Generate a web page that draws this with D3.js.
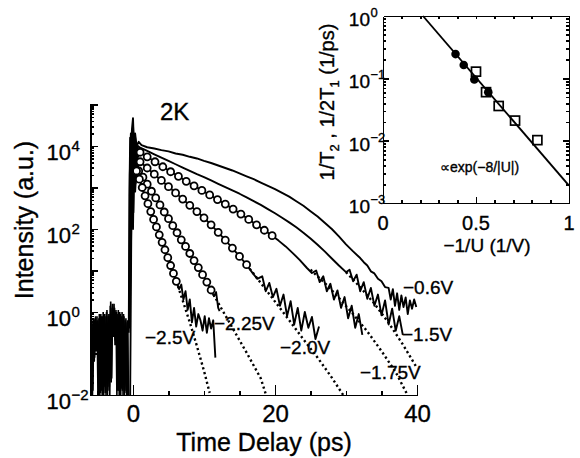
<!DOCTYPE html>
<html>
<head>
<meta charset="utf-8">
<title>Decay traces at 2K</title>
<style>
  body { margin: 0; background: #fff; }
  svg { display: block; font-family: "Liberation Sans", Arial, sans-serif; }
  svg text { fill: #000; stroke: #000; stroke-width: 0.35px; }
  .axis path, .axis line { stroke: #000; stroke-width: 1.8; shape-rendering: crispEdges; }
</style>
</head>
<body>
<div id="chart"></div>
<script src="https://d3js.org/d3.v7.min.js"></script>
<script>
// ---------------- main panel: log10(intensity) vs time delay (ps) ----------------
var volts = ["\u22120.6V", "\u22121.5V", "\u22121.75V", "\u22122.0V", "\u22122.25V", "\u22122.5V"];

// noise before the pulse (all traces overlap here)
var preT = [-5.9,-5.78,-5.65,-5.52,-5.4,-5.27,-5.14,-5.0,-4.87,-4.74,-4.6,-4.47,-4.34,-4.2,-4.07,-3.94,-3.8,-3.67,-3.54,-3.4,-3.27,-3.14,-3.0,-2.87,-2.74,-2.6,-2.47,-2.34,-2.2,-2.07,-1.94,-1.8,-1.67,-1.54,-1.4,-1.27,-1.14,-1.0,-0.87,-0.74,-0.65];
var preL = [-2,-0.2,-1.9,-0.15,-1.1,-0.1,-0.9,-0.2,-2,-0.05,-1.95,-0.1,-2,0.0,-1.8,-0.1,-2,0.05,-1.9,-0.05,-2,0.25,-1.6,0.2,-0.6,0.1,-0.7,0.0,-1.9,0.05,-2,-0.05,-1.85,0.0,-2,-0.1,-1.9,-0.15,-2,-0.2,-2];
var preT2 = [-5.84,-5.71,-5.58,-5.46,-5.33,-5.2,-5.07,-4.93,-4.8,-4.67,-4.53,-4.4,-4.27,-4.13,-4.0,-3.87,-3.73,-3.6,-3.47,-3.33,-3.2,-3.07,-2.93,-2.8,-2.67,-2.53,-2.4,-2.27,-2.13,-2.0,-1.87,-1.73,-1.6,-1.47,-1.33,-1.2,-1.07,-0.93,-0.8,-0.7];
var preL2 = [-0.3,-2,-0.25,-1.2,-0.2,-0.95,-0.1,-2,-0.15,-2,-0.05,-1.9,-0.1,-2,-0.05,-1.95,0.0,-2,-0.1,-1.8,0.15,-1.7,0.1,-0.55,0.2,-0.8,0.05,-2,-0.05,-1.9,0.0,-2,-0.1,-1.9,-0.05,-2,-0.2,-1.95,-0.25,-2];

// -0.6 V
var t06 = [-0.6,-0.5,-0.4,-0.3,-0.15,0,0.15,0.3,0.5,0.8,1.2,2,3,4,5,6,7,8,9,10,11,12,13,14,15,16,17,18,19,20,21,22,23,24,25,26,27,28,29,30,31,32,32.5,33,33.5,34,34.5,35,35.5,36,36.3,36.6,36.9,37.2,37.5,37.8,38.1,38.4,38.7,39,39.3,39.6,39.9];
var l06 = [-0.5,2.8,4.2,3.7,4.4,4.67,3.9,4.3,4.0,4.1,4.02,3.97,3.94,3.9,3.87,3.82,3.79,3.74,3.7,3.64,3.59,3.53,3.47,3.41,3.34,3.27,3.2,3.12,3.04,2.96,2.87,2.78,2.67,2.56,2.43,2.3,2.15,2.0,1.82,1.63,1.46,1.3,1.2,1.12,0.98,0.93,0.8,0.74,0.6,0.58,0.3,0.55,0.15,0.45,0.05,0.4,0.12,0.35,-0.05,0.28,0.08,0.3,0.12];

// -1.5 V
var t15 = [-0.55,-0.45,-0.3,-0.15,0,0.15,0.3,0.5,0.7,1,2,3,4,5,6,7,8,9,10,11,12,13,14,15,16,17,18,19,20,21,22,23,24,25,26,27,28,29,30,30.5,31,31.5,32,32.5,33,33.5,34,34.5,35,35.5,36,36.5,37,37.5,38];
var l15 = [-0.3,3.3,4.3,3.5,4.5,3.8,4.2,3.85,4.0,3.96,3.88,3.8,3.72,3.64,3.56,3.48,3.4,3.32,3.25,3.17,3.09,3.01,2.93,2.85,2.76,2.67,2.58,2.48,2.38,2.27,2.16,2.04,1.91,1.77,1.62,1.46,1.29,1.12,0.96,1.02,0.74,0.9,0.5,0.72,0.32,0.58,0.15,0.42,-0.08,0.28,-0.3,0.08,-0.45,-0.1,-0.55];
var f15t = [30,32,34,36,38,40];
var f15l = [0.96,0.6,0.2,-0.26,-0.78,-1.35];

// -1.75 V
var lead175t = [-0.5,-0.4,-0.25,-0.1,0.05,0.2,0.4,0.6];
var lead175l = [-0.2,2.5,4.1,3.2,4.3,3.5,3.9,3.7];
var c175t = [1,2,3.1,4.2,5.3,6.4,7.5,8.6,9.7,10.8,11.9,13,14.1,15.2,16.3,17.4,18.5,19.6];
var c175l = [3.85,3.74,3.62,3.5,3.38,3.27,3.15,3.04,2.93,2.82,2.71,2.6,2.48,2.36,2.23,2.1,1.97,1.84];
var tail175t = [20.5,21.5,22.5,23.5,24.5,25.2,25.8,26.3,26.8,27.3,27.8,28.3,28.8,29.3,29.8,30.3,30.8,31.3,31.8,32.3];
var tail175l = [1.72,1.58,1.42,1.25,1.06,0.94,1.0,0.72,0.86,0.5,0.68,0.3,0.52,0.1,0.36,-0.15,0.15,-0.38,-0.05,-0.55];
var f175t = [25,27,29,31,33,35,37,38.6];
var f175l = [1.02,0.7,0.34,-0.05,-0.47,-0.94,-1.45,-1.98];

// -2.0 V
var lead20t = [-0.5,-0.35,-0.2,-0.05,0.1,0.25,0.45,0.7];
var lead20l = [-0.4,1.8,3.8,2.6,4.0,3.1,3.7,3.5];
var c20t = [1,2,3,4,5,6,7,8,9,10,11,12,13,14,15,16];
var c20l = [3.62,3.47,3.32,3.17,3.02,2.87,2.72,2.57,2.42,2.27,2.1,1.92,1.73,1.54,1.34,1.14];
var tail20t = [16.8,17.5,18.2,18.7,19.2,19.7,20.2,20.7,21.2,21.7,22.2,22.7,23.2,23.7,24.2,24.7,25.2,25.7,26.2];
var tail20l = [0.95,0.8,0.86,0.5,0.7,0.36,0.56,0.15,0.42,-0.1,0.26,-0.3,0.1,-0.45,0.0,-0.38,-0.12,-0.65,-0.35];
var f20t = [16,18,20,22,24,26,28,29.6];
var f20l = [1.14,0.7,0.25,-0.2,-0.66,-1.1,-1.58,-2.0];

// -2.25 V
var lead225t = [-0.45,-0.3,-0.15,0,0.15,0.3,0.5];
var lead225l = [-0.3,2.2,3.5,2.0,3.9,2.9,3.5];
var c225t = [0.8,1.4,2,2.6,3.2,3.8,4.4,5,5.6,6.2,6.8,7.4,8,8.6,9.2,9.8,10.4,11];
var c225l = [3.4,3.25,3.08,2.91,2.75,2.58,2.41,2.25,2.08,1.91,1.74,1.58,1.41,1.24,1.07,0.9,0.72,0.53];
var tail225t = [11.4,11.7,12,12.2];
var tail225l = [0.38,0.48,0.1,0.02];
var f225t = [11,12,14,16,18,18.7];
var f225l = [0.53,0.22,-0.38,-0.98,-1.6,-1.98];

// -2.5 V
var lead25t = [-0.4,-0.25,-0.1,0.05,0.2,0.35];
var lead25l = [-2,1.7,3.3,2.4,3.7,3.1];
var c25t = [0.5,0.9,1.3,1.7,2.1,2.5,2.9,3.3,3.7,4.1,4.5,4.9,5.3,5.7,6.1];
var c25l = [3.4,3.2,3.0,2.8,2.61,2.42,2.23,2.05,1.86,1.68,1.5,1.31,1.12,0.93,0.74];
var tail25t = [6.5,6.8,7.1,7.4,7.7,8.0,8.3,8.6,8.9,9.2,9.5,9.8,10.1,10.4,10.7,11.0,11.3,11.6];
var tail25l = [0.55,0.66,0.3,0.5,0.05,0.3,-0.25,0.1,-0.35,-0.05,-0.2,-0.45,-0.1,-0.5,-0.15,-0.4,-0.2,-1.1];
var f25t = [6.1,7,8,9,10,10.8];
var f25l = [0.74,0.28,-0.25,-0.82,-1.42,-1.95];

var xTickLabels = [0, 20, 40];
var xTickMinor = [-5, 5, 10, 15, 25, 30, 35];
var yLabelExp = [-2, 0, 2, 4];

// ---------------- inset: rates vs -1/U ----------------
var insetU1 = [0.39, 0.434, 0.491, 0.566];          // filled circles
var insetR1 = [0.245, 0.164, 0.096, 0.060];
var insetU2 = [0.50, 0.554, 0.622, 0.71, 0.83];     // open squares
var insetR2 = [0.128, 0.060, 0.036, 0.021, 0.0102];
var insetFitU = [0.215, 1];
var insetFitR = [1, 0.0019];
var insetXLabels = [0, 0.5, 1];
var insetYLabelExp = [0, -1, -2, -3];

// ---------------- drawing ----------------
var svg = d3.select("#chart").append("svg").attr("width", 580).attr("height", 458);

var x = d3.scaleLinear().domain([-6, 40]).range([90.4, 417]);
var y = d3.scaleLog().domain([1e-2, 1e5]).range([395, 104.5]);

function pts(ts, ls) { return ts.map(function(t, i) { return [t, ls[i]]; }); }
var line = d3.line().x(function(d) { return x(d[0]); }).y(function(d) { return y(Math.pow(10, d[1])); });

var curves = [
  { label: volts[0], trace: pts(t06, l06), circles: [], fit: [], lx: 403, ly: 294 },
  { label: volts[1], trace: pts(t15, l15), circles: [], fit: pts(f15t, f15l), lx: 402, ly: 341 },
  { label: volts[2], trace: pts(lead175t, lead175l).concat(pts(c175t, c175l), pts(tail175t, tail175l)),
    circles: pts(c175t, c175l), fit: pts(f175t, f175l), lx: 360, ly: 379 },
  { label: volts[3], trace: pts(lead20t, lead20l).concat(pts(c20t, c20l), pts(tail20t, tail20l)),
    circles: pts(c20t, c20l), fit: pts(f20t, f20l), lx: 280, ly: 354 },
  { label: volts[4], trace: pts(lead225t, lead225l).concat(pts(c225t, c225l), pts(tail225t, tail225l)),
    circles: pts(c225t, c225l), fit: pts(f225t, f225l), lx: 214, ly: 330 },
  { label: volts[5], trace: pts(lead25t, lead25l).concat(pts(c25t, c25l), pts(tail25t, tail25l)),
    circles: pts(c25t, c25l), fit: pts(f25t, f25l), lx: 145, ly: 344 }
];

svg.append("clipPath").attr("id", "clipMain")
  .append("rect").attr("x", 90).attr("y", 104).attr("width", 330).attr("height", 292);

var plot = svg.append("g").attr("clip-path", "url(#clipMain)");

// dotted fit curves
plot.selectAll("path.fit").data(curves.filter(function(c) { return c.fit.length; }))
  .enter().append("path").attr("class", "fit")
  .attr("d", function(c) { return line(c.fit); })
  .attr("fill", "none").attr("stroke", "#000")
  .attr("stroke-width", 2.4).attr("stroke-dasharray", "2.2,2.8");

// noise before t = 0
[pts(preT, preL), pts(preT2, preL2)].forEach(function(p) {
  plot.append("path").attr("d", line(p))
    .attr("fill", "none").attr("stroke", "#000").attr("stroke-width", 1.6);
});

// measured traces
plot.selectAll("path.trace").data(curves).enter().append("path").attr("class", "trace")
  .attr("d", function(c) { return line(c.trace); })
  .attr("fill", "none").attr("stroke", "#000").attr("stroke-width", 1.9)
  .attr("stroke-linejoin", "round");

// open circles
curves.forEach(function(c) {
  plot.selectAll(null).data(c.circles).enter().append("circle")
    .attr("cx", function(d) { return x(d[0]); })
    .attr("cy", function(d) { return y(Math.pow(10, d[1])); })
    .attr("r", 3.5).attr("fill", "#fff").attr("stroke", "#000").attr("stroke-width", 1.8);
});

// voltage labels
svg.selectAll("text.vlab").data(curves).enter().append("text").attr("class", "vlab")
  .attr("x", function(c) { return c.lx; }).attr("y", function(c) { return c.ly; })
  .attr("font-size", 19).text(function(c) { return c.label; });

// axes of main panel
var yMinor = [];
for (var e = -2; e < 5; e++) for (var m = 2; m <= 9; m++) yMinor.push(m * Math.pow(10, e));
var yDecades = [];
for (var e2 = -2; e2 <= 5; e2++) yDecades.push(Math.pow(10, e2));

svg.append("g").attr("class", "axis").attr("transform", "translate(90.4,0)")
  .call(d3.axisLeft(y).tickValues(yMinor).tickSizeInner(-4).tickSizeOuter(0).tickFormat(""));
svg.append("g").attr("class", "axis").attr("transform", "translate(90.4,0)")
  .call(d3.axisLeft(y).tickValues(yDecades).tickSizeInner(-8).tickSizeOuter(0).tickFormat(""));

svg.append("g").attr("class", "axis").attr("transform", "translate(0,395)")
  .call(d3.axisBottom(x).tickValues(xTickMinor).tickSizeInner(-4).tickSizeOuter(0).tickFormat(""));
svg.append("g").attr("class", "axis").attr("transform", "translate(0,395)")
  .call(d3.axisBottom(x).tickValues(xTickLabels).tickSizeInner(-10).tickSizeOuter(0).tickPadding(10))
  .call(function(g) { g.selectAll("text").attr("font-size", 24).attr("font-family", null); });

svg.selectAll("g.ylab").data(yLabelExp).enter().append("g").attr("class", "ylab")
  .each(function(d) {
    var yy = y(Math.pow(10, d));
    var g = d3.select(this);
    g.append("text").attr("x", 71).attr("y", yy + 14).attr("text-anchor", "end")
      .attr("font-size", 22).text("10");
    g.append("text").attr("x", 71.5).attr("y", yy + 5).attr("font-size", 15)
      .text(d < 0 ? "\u2212" + (-d) : d);
  });

svg.append("text").attr("transform", "translate(33,220) rotate(-90)")
  .attr("text-anchor", "middle").attr("font-size", 25).text("Intensity (a.u.)");
svg.append("text").attr("x", 264).attr("y", 451)
  .attr("text-anchor", "middle").attr("font-size", 25).text("Time Delay (ps)");
svg.append("text").attr("x", 160).attr("y", 120).attr("font-size", 24).text("2K");

// ---------------- inset ----------------
var xi = d3.scaleLinear().domain([0, 1]).range([383, 569]);
var yi = d3.scaleLog().domain([1e-3, 1]).range([203, 16]);

var iMinorY = [];
for (var e3 = -3; e3 < 0; e3++) for (var m3 = 2; m3 <= 9; m3++) iMinorY.push(m3 * Math.pow(10, e3));
var iDecY = [1e-2, 1e-1];
var iMinorX = d3.range(1, 10).map(function(i) { return i / 10; });

var inset = svg.append("g");
inset.append("g").attr("class", "axis").attr("transform", "translate(0,203)")
  .call(d3.axisBottom(xi).tickValues(iMinorX).tickSizeInner(-3).tickSizeOuter(0).tickFormat(""));
inset.append("g").attr("class", "axis").attr("transform", "translate(0,203)")
  .call(d3.axisBottom(xi).tickValues([0.5]).tickSizeInner(-6).tickSizeOuter(0).tickFormat(""));
inset.append("g").attr("class", "axis").attr("transform", "translate(0,16)")
  .call(d3.axisTop(xi).tickValues(iMinorX).tickSizeInner(-3).tickSizeOuter(0).tickFormat(""));
inset.append("g").attr("class", "axis").attr("transform", "translate(383,0)")
  .call(d3.axisLeft(yi).tickValues(iMinorY).tickSizeInner(-3).tickSizeOuter(0).tickFormat(""));
inset.append("g").attr("class", "axis").attr("transform", "translate(383,0)")
  .call(d3.axisLeft(yi).tickValues(iDecY).tickSizeInner(-6).tickSizeOuter(0).tickFormat(""));
inset.append("g").attr("class", "axis").attr("transform", "translate(569,0)")
  .call(d3.axisRight(yi).tickValues(iMinorY).tickSizeInner(-3).tickSizeOuter(0).tickFormat(""));
inset.append("g").attr("class", "axis").attr("transform", "translate(569,0)")
  .call(d3.axisRight(yi).tickValues(iDecY).tickSizeInner(-6).tickSizeOuter(0).tickFormat(""));

inset.selectAll("text.ixl").data(insetXLabels).enter().append("text").attr("class", "ixl")
  .attr("x", function(d) { return xi(d); }).attr("y", 230).attr("text-anchor", "middle")
  .attr("font-size", 20).text(function(d) { return d; });

inset.selectAll("g.iyl").data(insetYLabelExp).enter().append("g").attr("class", "iyl")
  .each(function(d) {
    var yy = yi(Math.pow(10, d));
    var g = d3.select(this);
    g.append("text").attr("x", 370).attr("y", yy + 10).attr("text-anchor", "end")
      .attr("font-size", 19).text("10");
    g.append("text").attr("x", 370.5).attr("y", yy + 1).attr("font-size", 13)
      .text(d < 0 ? "\u2212" + (-d) : d);
  });

var iline = d3.line().x(function(d) { return xi(d[0]); }).y(function(d) { return yi(d[1]); });
inset.append("path").attr("d", iline(pts(insetFitU, insetFitR)))
  .attr("fill", "none").attr("stroke", "#000").attr("stroke-width", 1.9);

inset.selectAll("circle.f").data(pts(insetU1, insetR1)).enter().append("circle").attr("class", "f")
  .attr("cx", function(d) { return xi(d[0]); }).attr("cy", function(d) { return yi(d[1]); })
  .attr("r", 4.3).attr("fill", "#000");

inset.selectAll("rect.s").data(pts(insetU2, insetR2)).enter().append("rect").attr("class", "s")
  .attr("x", function(d) { return xi(d[0]) - 4.5; }).attr("y", function(d) { return yi(d[1]) - 4.5; })
  .attr("width", 9).attr("height", 9)
  .attr("fill", "none").attr("stroke", "#000").attr("stroke-width", 1.7);

inset.append("text").attr("x", 440).attr("y", 172).attr("font-size", 14).text("\u221Dexp(\u22128/|U|)");

var iyl = inset.append("text").attr("transform", "translate(334,102) rotate(-90)")
  .attr("text-anchor", "middle").attr("font-size", 20);
iyl.append("tspan").text("1/T");
iyl.append("tspan").attr("font-size", 13).attr("dy", 5).text("2");
iyl.append("tspan").attr("dy", -5).text(" , 1/2T");
iyl.append("tspan").attr("font-size", 13).attr("dy", 5).text("1");
iyl.append("tspan").attr("dy", -5).text("  (1/ps)");

inset.append("text").attr("x", 487).attr("y", 252).attr("text-anchor", "middle")
  .attr("font-size", 19).text("\u22121/U (1/V)");
</script>
</body>
</html>
